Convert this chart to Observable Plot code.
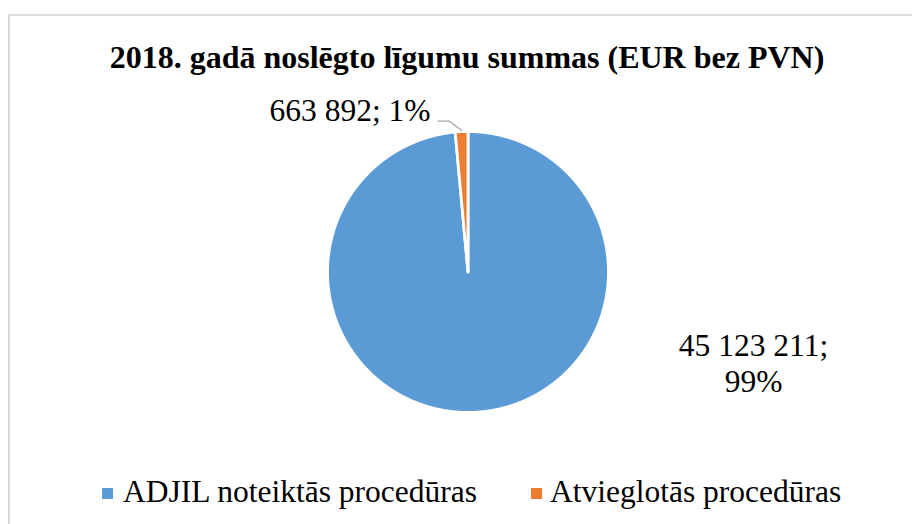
<!DOCTYPE html>
<html>
<head>
<meta charset="utf-8">
<script src="https://cdn.jsdelivr.net/npm/d3@7"></script>
<script src="https://cdn.jsdelivr.net/npm/@observablehq/plot@0.6"></script>
<style>
  html, body { margin: 0; padding: 0; background: #fff; }
  body { width: 912px; height: 524px; overflow: hidden; position: relative;
         font-family: "Liberation Serif", "Times New Roman", serif; color: #000; }
  #frame { position: absolute; left: 8px; top: 14px; width: 1000px; height: 600px;
           border-top: 2px solid #d9d9d9; border-left: 2px solid #d9d9d9; box-sizing: border-box; }
  #title { position: absolute; left: 0; width: 934px; top: 41px; text-align: center;
           font-weight: bold; font-size: 32px; line-height: 1; white-space: nowrap; }
  #plot { position: absolute; left: 0; top: 88px; }
  .sw { position: absolute; width: 11px; height: 11px; top: 488px; }
  .lt { position: absolute; top: 475.6px; font-size: 31.5px; line-height: 1; white-space: nowrap; }
</style>
</head>
<body>
<div id="frame"></div>
<div id="title"></div>
<div id="plot"></div>
<div id="legend"></div>
<script>
// ---- data ----
const title = "2018. gadā noslēgto līgumu summas (EUR bez PVN)";
const categories = ["ADJIL noteiktās procedūras", "Atvieglotās procedūras"];
const values = [45123211, 663892];
const colors = ["#5B9BD5", "#ED7D31"];

// ---- layout (pixels on the page) ----
const svgTop = 88, W = 912, H = 342;
const cx = 467.5, cy = 271.5, R = 140.5;
const labelLayout = [
  {px: 753, py: 391, anchor: "middle", sep: "\n"},   // big slice label (last baseline)
  {px: 430, py: 120, anchor: "end", sep: " "}        // small slice label
];
const legendLayout = [{sq: 102, tx: 123}, {sq: 531, tx: 550}];

document.getElementById("title").textContent = title;

const ux = px => (px - cx) / R;
const uy = py => (cy - py) / R;

const total = d3.sum(values);
const arcs = d3.pie().sort(null).value(d => d)(values);
const fmt = d3.formatLocale({decimal: ",", thousands: " ", grouping: [3], currency: ["", ""]}).format(",");

// slice outlines built from pie angles
const slices = arcs.map((a, i) => {
  const n = Math.max(2, Math.ceil((a.endAngle - a.startAngle) / (Math.PI / 720)));
  const pts = [{x: 0, y: 0}];
  for (let k = 0; k <= n; ++k) {
    const t = a.startAngle + (a.endAngle - a.startAngle) * k / n;
    pts.push({x: Math.sin(t), y: Math.cos(t)});
  }
  return {points: pts, color: colors[i]};
});

const labels = arcs.map((a, i) => ({
  x: ux(labelLayout[i].px),
  y: uy(labelLayout[i].py),
  anchor: labelLayout[i].anchor,
  text: fmt(values[i]) + ";" + labelLayout[i].sep + Math.round(values[i] / total * 100) + "%"
}));

// leader line for the small slice
const small = arcs[1];
const mid = (small.startAngle + small.endAngle) / 2;
const leader = [
  {x: ux(437.7), y: uy(120.7)},
  {x: ux(449), y: uy(120.7)},
  {x: Math.sin(mid) * 1.01, y: Math.cos(mid) * 1.01}
];

const yc = cy - svgTop;
const chart = Plot.plot({
  width: W, height: H,
  marginTop: 0, marginRight: 0, marginBottom: 0, marginLeft: 0,
  x: {domain: [-1, 1], range: [cx - R, cx + R], axis: null},
  y: {domain: [-1, 1], range: [yc + R, yc - R], axis: null},
  style: {background: "transparent", overflow: "visible"},
  marks: [
    ...slices.map(s => Plot.line(s.points, {
      x: "x", y: "y", fill: s.color, stroke: "white", strokeWidth: 2.8,
      strokeLinejoin: "round", curve: "linear-closed"
    })),
    Plot.line(leader, {x: "x", y: "y", stroke: "#a6a6a6", strokeWidth: 1.3}),
    ...["middle", "end"].map(anc => Plot.text(labels.filter(d => d.anchor === anc), {
      x: "x", y: "y", text: "text", textAnchor: anc, lineAnchor: "bottom",
      fontSize: 31.5, lineHeight: 1.13, fontFamily: "Liberation Serif", fill: "#000"
    }))
  ]
});
document.getElementById("plot").appendChild(chart);

// legend
const legend = document.getElementById("legend");
categories.forEach((c, i) => {
  const sq = document.createElement("div");
  sq.className = "sw";
  sq.style.left = legendLayout[i].sq + "px";
  sq.style.background = colors[i];
  legend.appendChild(sq);
  const t = document.createElement("div");
  t.className = "lt";
  t.style.left = legendLayout[i].tx + "px";
  t.textContent = c;
  legend.appendChild(t);
});
</script>
</body>
</html>
